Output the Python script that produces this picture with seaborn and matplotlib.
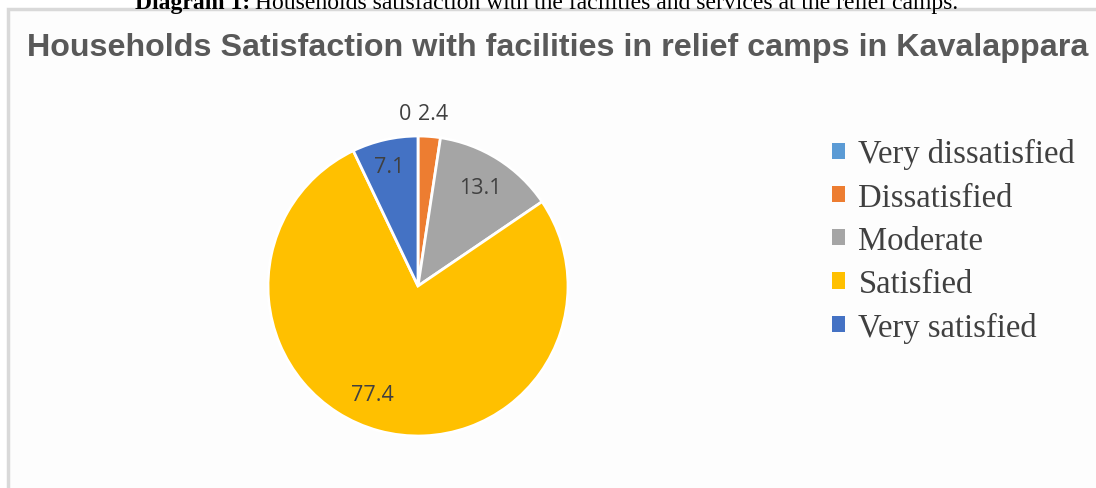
import matplotlib
matplotlib.use("Agg")
import matplotlib.pyplot as plt
import seaborn as sns
import numpy as np
from matplotlib.patches import Rectangle

sns.set_theme(style="white")

categories = ["Very dissatisfied", "Dissatisfied", "Moderate", "Satisfied", "Very satisfied"]
values = [0, 2.4, 13.1, 77.4, 7.1]
colors = ["#5B9BD5", "#ED7D31", "#A5A5A5", "#FFC000", "#4472C4"]

W, H = 1096, 489
fig = plt.figure(figsize=(W / 100, H / 100), dpi=100)
fig.patch.set_facecolor("white")

# chart frame
fig.patches.append(Rectangle((8 / W, -0.1), 1.2, (H - 10) / H + 0.1, transform=fig.transFigure,
                             facecolor="#FDFDFD", edgecolor="#D9D9D9", linewidth=2.5, zorder=-5))

# caption (partially cut, as in the source)
cap_y = 1 - 4 / H
t1 = fig.text(135 / W, cap_y, "Diagram 1:", ha="left", va="center", fontsize=17,
              family="Liberation Serif", fontweight="bold", color="black")
fig.canvas.draw()
bb = t1.get_window_extent()
fig.text(bb.x1 / W + 5 / W, cap_y,
         "Households satisfaction with the facilities and services at the relief camps.",
         ha="left", va="center", fontsize=17, family="Liberation Serif", color="black")

fig.text(558 / W, 1 - 48 / H, "Households Satisfaction with facilities in relief camps in Kavalappara",
         ha="center", va="center", fontsize=23.2, fontweight="bold", family="Liberation Sans",
         color="#595959")

R = 150
cx, cy = 418, 287
half = 165
ax = fig.add_axes([(cx - half) / W, (H - cy - half) / H, 2 * half / W, 2 * half / H])
ax.set_zorder(2)
ax.patch.set_alpha(0)
wedges, _ = ax.pie(values, colors=colors, startangle=90, counterclock=False, radius=1,
                   wedgeprops=dict(edgecolor="white", linewidth=2))
ax.set_xlim(-half / R, half / R)
ax.set_ylim(-half / R, half / R)
ax.set_aspect("equal")
ax.axis("off")

# data labels
dists = [1.15, 1.15, 0.78, 0.75, 0.82]
shifts = [-0.087, 0.014, 0, -0.11, -0.01]
for w, v, d, s in zip(wedges, values, dists, shifts):
    ang = np.deg2rad((w.theta1 + w.theta2) / 2)
    x, y = d * np.cos(ang) + s, d * np.sin(ang)
    if v in (0, 2.4):
        y = 1.15
    ax.text(x, y, f"{v:g}", ha="center", va="center", fontsize=15.5, color="#404040",
            family="Open Sans")

handles = [Rectangle((0, 0), 1, 1, facecolor=c, edgecolor="none") for c in colors]
leg = fig.legend(handles, categories, loc="upper left", bbox_to_anchor=(803 / W, 1 - 110 / H),
                 frameon=False, prop=dict(family="Liberation Serif", size=23.5),
                 handlelength=0.4, handleheight=0.4, handletextpad=0.4, labelspacing=0.39,
                 labelcolor="#404040")

fig.savefig("out.png", dpi=100, facecolor="white")
